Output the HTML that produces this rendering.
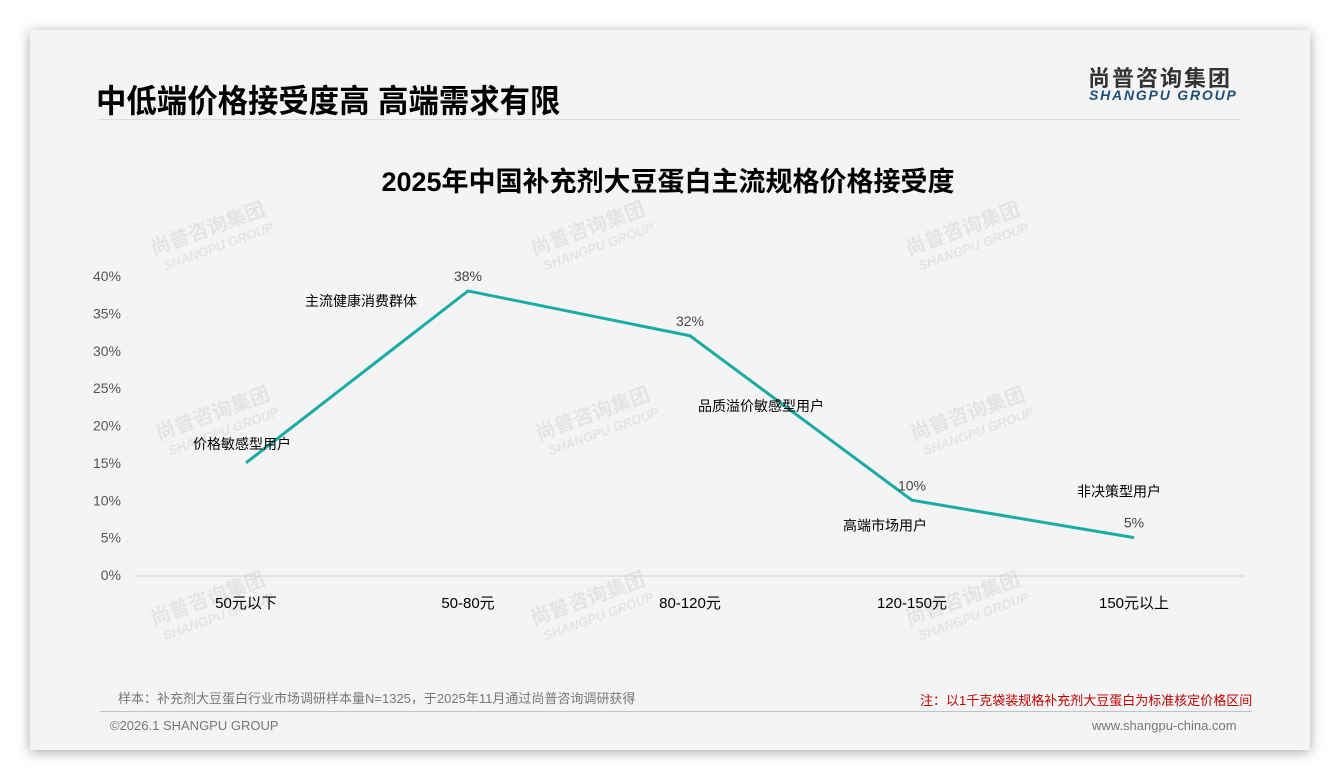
<!DOCTYPE html>
<html><head><meta charset="utf-8"><style>
body{margin:0;width:1340px;height:780px;background:#fff;position:relative;overflow:hidden;font-family:"Liberation Sans","Noto Sans CJK SC",sans-serif}
#card{position:absolute;left:30px;top:30px;width:1280px;height:720px;background:#f4f4f4;box-shadow:0 2px 12px rgba(0,0,0,.35)}
.t{position:absolute;white-space:nowrap}
</style></head><body>
<div id="card"></div>
<div class="t" style="left:96px;top:76px;font-size:32px;font-weight:bold;color:#000;transform:scaleX(0.95);transform-origin:left">中低端价格接受度高 高端需求有限</div>
<div class="t" style="left:1088px;top:61px;font-size:22px;font-weight:bold;color:#333;letter-spacing:2px">尚普咨询集团</div>
<div class="t" style="left:1089px;top:87px;font-size:14px;font-weight:bold;font-style:italic;color:#1f4e79;letter-spacing:1.8px">SHANGPU GROUP</div>
<div style="position:absolute;left:98px;top:119px;width:1142px;height:1px;background:#ddd"></div>
<div class="t" style="left:-2px;width:1340px;text-align:center;top:160px;font-size:27px;font-weight:bold;color:#000">2025年中国补充剂大豆蛋白主流规格价格接受度</div>
<svg id="chart" width="1340" height="780" style="position:absolute;left:0;top:0"></svg>
<div class="t" style="left:118px;top:688px;font-size:13px;color:#777">样本：补充剂大豆蛋白行业市场调研样本量N=1325，于2025年11月通过尚普咨询调研获得</div>
<div class="t" style="left:920px;top:690px;font-size:13px;color:#c00000">注：以1千克袋装规格补充剂大豆蛋白为标准核定价格区间</div>
<div style="position:absolute;left:100px;top:711px;width:1152px;height:1px;background:#b8c4d0"></div>
<div class="t" style="left:110px;top:718px;font-size:13px;color:#777">©2026.1 SHANGPU GROUP</div>
<div class="t" style="left:1092px;top:718px;font-size:13px;color:#777">www.shangpu-china.com</div>
<script>
const categories=["50元以下","50-80元","80-120元","120-150元","150元以上"];
const values=[15,38,32,10,5];
const valueLabels=["","38%","32%","10%","5%"];
const yTicks=[0,5,10,15,20,25,30,35,40];
const annotations=["价格敏感型用户","主流健康消费群体","品质溢价敏感型用户","高端市场用户","非决策型用户"];
const annDx=[-4,-107,71,-27,-15];
const annDy=[-14,15,75,30,-41];
const svg=document.getElementById('chart');
const NS='http://www.w3.org/2000/svg';
const x=i=>246+i*222;
const y=v=>575-v*7.475;
function el(t,a){const e=document.createElementNS(NS,t);for(const k in a)e.setAttribute(k,a[k]);svg.appendChild(e);return e;}
[[210,235],[590,235],[965,235],[215,420],[595,420],[970,420],[210,605],[590,605],[965,605]].forEach(p=>{
 const g=el('text',{x:p[0],y:p[1],transform:`rotate(-20 ${p[0]} ${p[1]})`,'text-anchor':'middle','font-size':20,'font-weight':'bold',fill:'#e4e4e4'});g.textContent='尚普咨询集团';
 
 
 const g2=el('text',{x:p[0]+4,y:p[1]+18,transform:`rotate(-20 ${p[0]} ${p[1]})`,'text-anchor':'middle','font-size':13,'font-weight':'bold','font-style':'italic',fill:'#e4e4e4'});g2.textContent='SHANGPU GROUP';
 
 
});
const ax=el('line',{x1:135,x2:1245,y1:576,y2:576,stroke:'#d0d0d0'});


yTicks.forEach(t=>{const e=el('text',{x:121,y:y(t)+5,'text-anchor':'end','font-size':14,fill:'#555'});e.textContent=t+'%';

});
categories.forEach((c,i)=>{const e=el('text',{x:x(i),y:608,'text-anchor':'middle','font-size':15,fill:'#000'});e.textContent=c;

});
const line=el('polyline',{points:values.map((v,i)=>x(i)+','+y(v)).join(' '),fill:'none',stroke:'#1aaba5','stroke-width':3});


values.forEach((v,i)=>{if(!valueLabels[i])return;const e=el('text',{x:x(i),y:y(v)-10,'text-anchor':'middle','font-size':14,fill:'#444'});e.textContent=valueLabels[i];

});
annotations.forEach((a,i)=>{const e=el('text',{x:x(i)+annDx[i],y:y(values[i])+annDy[i],'text-anchor':'middle','font-size':14,fill:'#000'});e.textContent=a;

});
</script>
</body></html>
